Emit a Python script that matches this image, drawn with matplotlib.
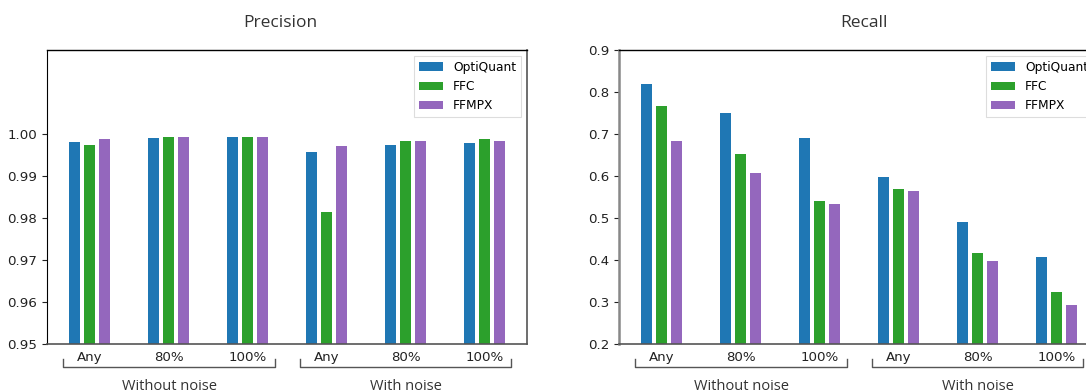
import numpy as np
import matplotlib
matplotlib.use("Agg")
import matplotlib.pyplot as plt
import matplotlib.transforms as mtransforms

# data
categories = ["Any", "80%", "100%", "Any", "80%", "100%"]
groups = ["Without noise", "With noise"]
methods = ["OptiQuant", "FFC", "FFMPX"]
colors = ["#1f77b4", "#2ca02c", "#9467bd"]

precision_optiquant = [0.9982, 0.9991, 0.9994, 0.9958, 0.9975, 0.9979]
precision_ffc = [0.9975, 0.9994, 0.9994, 0.9815, 0.9984, 0.9987]
precision_ffmpx = [0.9989, 0.9994, 0.9994, 0.9972, 0.9984, 0.9984]

recall_optiquant = [0.820, 0.751, 0.691, 0.598, 0.491, 0.408]
recall_ffc = [0.767, 0.653, 0.541, 0.570, 0.417, 0.325]
recall_ffmpx = [0.684, 0.606, 0.534, 0.565, 0.398, 0.294]

W, H = 1086, 390
fig = plt.figure(figsize=(W / 100, H / 100), dpi=100)

ax_p = fig.add_axes([47 / W, 46 / H, 480 / W, 294 / H])
ax_r = fig.add_axes([619 / W, 46 / H, 480 / W, 294 / H])

x = np.arange(len(categories))
bw = 0.14
off = 0.19


def draw(ax, series, ylim, yticks, yfmt):
    for i, (vals, name, c) in enumerate(zip(series, methods, colors)):
        ax.bar(x + (i - 1) * off, vals, width=bw, color=c, label=name, zorder=2)
    ax.set_xlim(-0.538, 5.538)
    ax.set_ylim(*ylim)
    ax.set_yticks(yticks)
    ax.set_yticklabels([yfmt.format(t) for t in yticks])
    ax.set_xticks(x)
    ax.set_xticklabels(categories)
    ax.tick_params(axis="x", length=0, pad=5, labelsize=9.6, colors="#222222")
    ax.tick_params(axis="y", length=3.5, labelsize=9.6, colors="#222222")
    ax.spines["top"].set_color("black")
    ax.spines["top"].set_linewidth(1.0)
    ax.spines["bottom"].set_color("#555555")
    ax.spines["bottom"].set_linewidth(1.2)
    ax.spines["right"].set_color("#555555")
    ax.spines["right"].set_linewidth(1.2)
    leg = ax.legend(loc="upper right", fontsize=8.8, fancybox=False,
                    edgecolor="#dddddd", framealpha=1)
    leg.get_frame().set_linewidth(0.8)

    # group brackets
    trans = mtransforms.blended_transform_factory(ax.transData, ax.transAxes)
    y_line = -22.7 / 294
    y_tick = -15.3 / 294
    for g, (a, b) in enumerate([(-0.33, 2.35), (2.67, 5.33)]):
        ax.plot([a, a, b, b], [y_tick, y_line, y_line, y_tick], color="#555555",
                lw=1.0, transform=trans, clip_on=False)
        ax.text((a + b) / 2, -42 / 294, groups[g], transform=trans, ha="center",
                va="center", fontsize=10.5, family="Open Sans", color="#333333")


draw(ax_p, [precision_optiquant, precision_ffc, precision_ffmpx],
     (0.95, 1.02), [0.95, 0.96, 0.97, 0.98, 0.99, 1.00], "{:.2f}")
ax_p.spines["left"].set_color("black")

draw(ax_r, [recall_optiquant, recall_ffc, recall_ffmpx],
     (0.2, 0.9), [0.2, 0.3, 0.4, 0.5, 0.6, 0.7, 0.8, 0.9], "{:.1f}")
ax_r.spines["left"].set_color("#888888")
ax_r.spines["left"].set_linewidth(1.8)

fig.text(280.5 / W, 1 - 23 / H, "Precision", ha="center", va="center",
         fontsize=12.5, family="Open Sans", color="#333333")
fig.text(863.5 / W, 1 - 23 / H, "Recall", ha="center", va="center",
         fontsize=12.5, family="Open Sans", color="#333333")

fig.savefig("out.png", dpi=100)
